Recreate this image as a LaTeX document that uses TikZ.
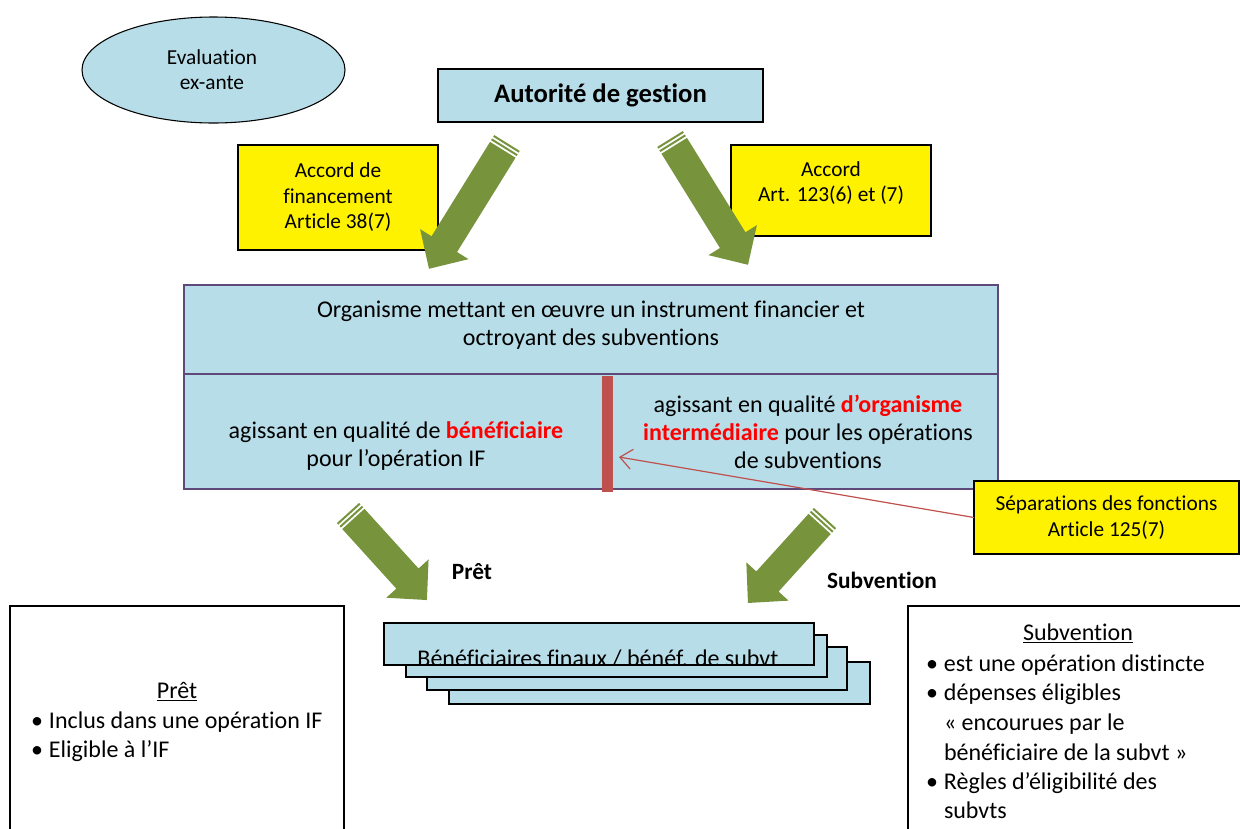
\documentclass[tikz,border=0pt]{standalone}
\usepackage{fontspec}
\setmainfont{Carlito}[Ligatures=NoCommon]
\usetikzlibrary{arrows.meta,calc,shapes.geometric}

\definecolor{paleblue}{HTML}{B7DDE8}
\definecolor{arrowgreen}{HTML}{77933C}
\definecolor{barred}{HTML}{C0504D}
\definecolor{framepurple}{HTML}{5F497A}

% Striped block arrow: tail point, direction (degrees, counter-clockwise), length (px)
\newcommand\blockarrow[3]{%
  \begin{scope}[shift={(#1)},rotate=#2,x=0.75pt,y=0.75pt]
    \fill[arrowgreen] (0,-15) rectangle (2,15);
    \fill[arrowgreen] (4,-15) rectangle (6,15);
    \fill[arrowgreen] (8,-15) -- (#3-29,-15) -- (#3-29,-28.5) -- (#3,0)
      -- (#3-29,28.5) -- (#3-29,15) -- (8,15) -- cycle;
  \end{scope}}

\begin{document}
\begin{tikzpicture}[x=0.75pt,y=-0.75pt,
  every node/.style={inner sep=0pt,outer sep=0pt},
  sz/.style 2 args={minimum width=#1*0.75pt,minimum height=#2*0.75pt},
  bluebox/.style={rectangle,draw=black,line width=0.8pt,fill=paleblue},
  yellowbox/.style={rectangle,draw=black,line width=0.8pt,fill=yellow},
  whitebox/.style={rectangle,draw=black,line width=0.8pt,fill=white},
  bigtext/.style={font=\fontsize{18}{21}\selectfont,align=center},
  smalltext/.style={font=\fontsize{16}{19.1}\selectfont,align=center},
  boldlabel/.style={font=\fontsize{17.5}{21}\selectfont\bfseries},
  listline/.style={anchor=base west,font=\fontsize{18}{21}\selectfont}]
\clip (0,0) rectangle (1240,829);
\fill[white] (0,0) rectangle (1240,829);

% top row
\node[ellipse,draw=black,line width=0.8pt,fill=paleblue,sz={263}{106}] (eval) at (213.5,70) {};
\node[smalltext,font=\fontsize{16}{18.75}\selectfont] (evaltext) at (212,70) {Evaluation\\ex-ante};

\node[bluebox,sz={325}{53},font=\fontsize{20}{24}\selectfont\bfseries] (auth) at (600.5,95.5) {Autorité de gestion};

\node[yellowbox,sz={200}{105},smalltext] (accL) at (338,197.5) {Accord de\\financement\\Article 38(7)};
\node[yellowbox,sz={200}{91}] (accR) at (831,190.5) {};
\node[smalltext] (accRtext) at (831,183) {Accord\\Art. 123(6) et (7)};

\blockarrow{507,143}{238.2}{148}
\blockarrow{670,139}{301.8}{148}

% implementing body
\node[bluebox,draw=framepurple,sz={814}{89}] (orgtop) at (591,329.5) {};
\node[bigtext] (orgtoptext) at (591,325) {Organisme mettant en œuvre un instrument financier et\\octroyant des subventions};
\node[bluebox,draw=framepurple,sz={814}{115}] (orgbot) at (591,431.5) {};
\node[bigtext] (orgleft) at (396,446) {agissant en qualité de \textcolor{red}{\bfseries bénéficiaire}\\pour l’opération IF};
\node[bigtext] (orgright) at (808,432) {agissant en qualité \textcolor{red}{\bfseries d’organisme}\\\textcolor{red}{\bfseries intermédiaire} pour les opérations\\de subventions};
\node[fill=barred,sz={11}{116}] (bar) at (607.5,434) {};

\node[yellowbox,sz={265}{73},smalltext,font=\fontsize{16}{19.5}\selectfont] (sep) at (1106.5,517.5) {Séparations des fonctions\\Article 125(7)};
\coordinate (bartip) at (619,457);
\draw[barred,line width=0.9pt,-{Straight Barb[length=9pt,width=15pt]}] (sep.west) -- (bartip);

\blockarrow{348,513}{-47.8}{117.5}
\blockarrow{825,518}{227.8}{114.7}
\node[boldlabel] (pretlabel) at (472,572) {Prêt};
\node[boldlabel] (sublabel) at (882,580) {Subvention};

% stacked final recipients
\node[bluebox,sz={421}{42}] (stk4) at (659.5,683) {};
\node[bluebox,sz={420}{43}] (stk3) at (637,668.5) {};
\node[bluebox,sz={421}{42}] (stk2) at (616.5,656) {};
\node[fill=paleblue,sz={430}{42}] (stk1) at (599,644) {};
\begin{scope}
  \clip (384,623) rectangle (814,665);
  \node[anchor=base,font=\fontsize{18}{21}\selectfont] (stktext) at (598,666) {Bénéficiaires finaux / bénéf. de subvt};
\end{scope}
\draw[line width=0.8pt] (stk1.north west) rectangle (stk1.south east);

% loan box
\node[whitebox,sz={334}{264}] (pretbox) at (177,738) {};
\node[anchor=base,font=\fontsize{18}{21}\selectfont] (prethead) at (177,698) {\underline{Prêt}};
\node[listline] (pret1) at (37,728) {\makebox[0pt]{•}\hspace{9pt}Inclus dans une opération IF};
\node[listline] (pret2) at (37,757) {\makebox[0pt]{•}\hspace{9pt}Eligible à l’IF};

% grant box
\node[whitebox,sz={352}{264}] (subbox) at (1084,738) {};
\node[anchor=base,font=\fontsize{18}{21}\selectfont] (subhead) at (1078,640) {\underline{Subvention}};
\node[listline] (sub1) at (932,671) {\makebox[0pt]{•}\hspace{9pt}est une opération distincte};
\node[listline] (sub2) at (932,700) {\makebox[0pt]{•}\hspace{9pt}dépenses éligibles};
\node[listline] (sub3) at (944,730) {« encourues par le};
\node[listline] (sub4) at (944,760) {bénéficiaire de la subvt »};
\node[listline] (sub5) at (932,789) {\makebox[0pt]{•}\hspace{9pt}Règles d’éligibilité des};
\node[listline] (sub6) at (944,818) {subvts};
\end{tikzpicture}
\end{document}
